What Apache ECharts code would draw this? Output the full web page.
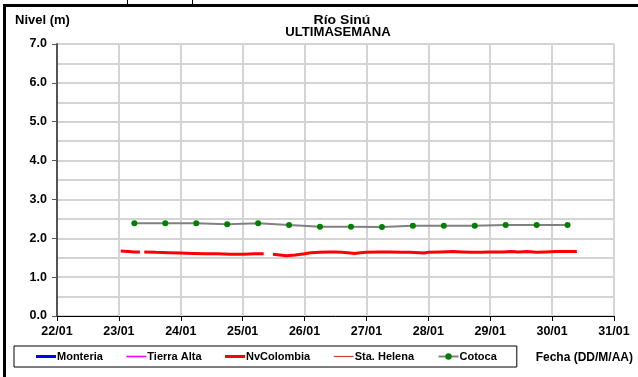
<!DOCTYPE html>
<html><head><meta charset="utf-8">
<script src="https://cdn.jsdelivr.net/npm/echarts@6/dist/echarts.min.js"></script>
<style>html,body{margin:0;padding:0;background:#fff}#c{width:638px;height:377px}</style>
</head><body><div id="c"></div>
<script>
var xTickDays = [22,23,24,25,26,27,28,29,30,31];
var seriesNames = ['Monteria','Tierra Alta','NvColombia','Sta. Helena','Cotoca'];
var cotocaDays = [23.25,23.75,24.25,24.75,25.25,25.75,26.25,26.75,27.25,27.75,28.25,28.75,29.25,29.75,30.25];
var cotocaValues = [2.39,2.39,2.39,2.36,2.39,2.34,2.30,2.30,2.29,2.32,2.32,2.32,2.34,2.34,2.34];
var nvDays = [23.03,23.15,23.25,23.34,null,
  23.41,23.6,23.8,24.0,24.2,24.4,24.6,24.8,25.0,25.2,25.34,null,
  25.49,25.6,25.7,25.85,26.0,26.1,26.25,26.4,26.5,26.6,26.7,26.81,26.9,27.0,27.2,27.4,27.55,27.7,27.85,27.93,28.0,28.2,28.4,28.55,28.7,28.85,29.0,29.2,29.35,29.45,29.6,29.75,29.9,30.05,30.2,30.4];
var nvValues = [1.67,1.66,1.65,1.65,null,
  1.65,1.64,1.63,1.62,1.61,1.60,1.60,1.59,1.59,1.60,1.60,null,
  1.59,1.57,1.55,1.57,1.60,1.63,1.64,1.65,1.65,1.64,1.63,1.61,1.63,1.64,1.65,1.65,1.64,1.64,1.63,1.62,1.64,1.65,1.66,1.65,1.64,1.64,1.65,1.65,1.66,1.65,1.66,1.64,1.65,1.66,1.66,1.66];

function pairs(xs, ys){ return xs.map(function(x,i){ return x===null ? '-' : [x, ys[i]]; }); }

var font = 'Liberation Sans, Arial, sans-serif';
var chart = echarts.init(document.getElementById('c'));
chart.setOption({
  animation:false,
  graphic:[
    {type:'rect',shape:{x:3,y:4,width:635,height:3},style:{fill:'#000'}},
    {type:'rect',shape:{x:3,y:4,width:3,height:373},style:{fill:'#000'}},
    {type:'line',shape:{x1:127.5,y1:0,x2:127.5,y2:4},style:{stroke:'#000',lineWidth:1}},
    {type:'line',shape:{x1:192.5,y1:0,x2:192.5,y2:4},style:{stroke:'#000',lineWidth:1}},
    {type:'text',x:15,y:14,style:{text:'Nivel (m)',font:'bold 13px '+font,fill:'#000'}},
    {type:'text',x:342,y:14,scaleX:1.12,originX:0,style:{text:'Río Sinú',font:'bold 12.5px '+font,fill:'#000',textAlign:'center'}},
    {type:'text',x:338,y:26,scaleX:1.05,originX:0,style:{text:'ULTIMASEMANA',font:'bold 12.5px '+font,fill:'#000',textAlign:'center'}},
    {type:'text',x:633,y:352,style:{text:'Fecha (DD/M/AA)',font:'bold 12px '+font,fill:'#000',textAlign:'right'}}
  ],
  grid:{left:57,top:44,right:24,bottom:61},
  legend:{
    data:[
      {name:'Monteria',icon:'path://M0,0H20V3H0Z'},
      {name:'Tierra Alta',icon:'path://M0,0H20V1.6H0Z'},
      {name:'NvColombia',icon:'path://M0,0H20V3H0Z'},
      {name:'Sta. Helena',icon:'path://M0,0H20V1.2H0Z'},
      {name:'Cotoca'}
    ],
    left:14, top:346,
    borderColor:'#000', borderWidth:1, padding:[5,20,5,22], itemGap:23.5,
    itemWidth:20, itemHeight:8,
    textStyle:{fontFamily:font,fontWeight:'bold',fontSize:11,color:'#000',padding:[0,0,0,-4]}
  },
  xAxis:{type:'value',min:22,max:31,interval:1,
    axisLine:{lineStyle:{color:'#000',width:1}},
    axisTick:{show:true,length:5,lineStyle:{color:'#000'}},
    axisLabel:{fontFamily:font,fontWeight:'bold',fontSize:12.5,color:'#000',margin:9,
      formatter:function(v){return v+'/01';}},
    splitLine:{show:true,lineStyle:{color:'#d4d4d4',width:2}}},
  yAxis:{type:'value',min:0,max:7,interval:1,
    axisLine:{show:true,lineStyle:{color:'#555',width:2}},
    axisTick:{show:true,length:5,lineStyle:{color:'#555'}},
    axisLabel:{fontFamily:font,fontWeight:'bold',fontSize:12.5,color:'#000',margin:10,
      formatter:function(v){return v.toFixed(1);}},
    splitLine:{show:true,lineStyle:{color:'#d4d4d4',width:2}},
    minorTick:{show:false,splitNumber:2},
    minorSplitLine:{show:true,lineStyle:{color:'#d4d4d4',width:2}}},
  series:[
    {name:'Monteria',type:'line',data:[],symbol:'none',color:'#0000ff',lineStyle:{width:3}},
    {name:'Tierra Alta',type:'line',data:[],symbol:'none',color:'#ff00ff',lineStyle:{width:1}},
    {name:'NvColombia',type:'line',symbol:'none',color:'#ff0000',lineStyle:{width:3},connectNulls:false,
      data:pairs(nvDays,nvValues)},
    {name:'Sta. Helena',type:'line',data:[],symbol:'none',color:'#c04040',lineStyle:{width:1}},
    {name:'Cotoca',type:'line',symbol:'circle',symbolSize:6,color:'#808080',
      itemStyle:{color:'#008000'},lineStyle:{color:'#808080',width:2},
      data:cotocaDays.map(function(d,i){return [d,cotocaValues[i]];})}
  ]
});
</script></body></html>
